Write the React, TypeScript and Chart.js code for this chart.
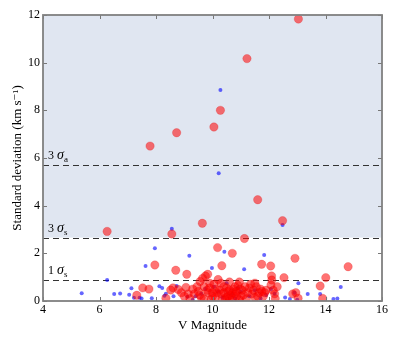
import React, { useEffect, useRef } from "react";
import { Chart, registerables } from "chart.js";

Chart.register(...registerables);

// Blue: small points (x = V magnitude, y = std dev km/s)
const blueX = [5.37, 6.27, 6.52, 6.73, 7.05, 7.13, 7.22, 7.42, 7.49, 7.63, 7.85, 7.96, 8.12, 8.22, 8.3, 8.35, 8.56, 8.73, 8.62, 9.11, 9.18, 9.3, 9.6, 9.75, 9.98, 10.05, 10.2, 10.22, 10.28, 10.42, 10.5, 10.7, 10.9, 11.12, 11.3, 11.5, 11.7, 11.83, 12.07, 12.2, 12.48, 12.57, 12.74, 12.9, 13.04, 13.37, 13.81, 14.28, 14.42, 14.54, 10.8, 11.0, 9.4, 10.35, 11.9, 13.0];
const blueY = [0.33, 0.88, 0.29, 0.31, 0.26, 0.53, 0.14, 0.14, 0.1, 1.47, 0.12, 2.21, 0.62, 0.55, 0.22, 0.3, 3.03, 0.63, 0.2, 0.18, 1.9, 0.05, 0.3, 0.5, 1.38, 0.6, 0.4, 5.36, 8.85, 2.07, 0.75, 0.3, 0.55, 1.33, 0.2, 0.45, 0.1, 1.93, 0.5, 0.3, 3.19, 0.15, 0.08, 0.35, 0.74, 0.29, 0.29, 0.08, 0.1, 0.59, 0.1, 0.4, 0.2, 0.15, 0.25, 0.05];

// Red: large points
const redX = [6.27, 7.32, 7.53, 7.75, 7.79, 7.96, 8.35, 8.52, 8.56, 8.7, 8.73, 8.79, 9.06, 9.09, 9.14, 9.56, 9.64, 9.5, 9.6, 9.7, 9.75, 9.83, 9.85, 9.9, 10.0, 10.05, 10.1, 10.18, 10.2, 10.28, 10.3, 10.33, 10.4, 10.5, 10.55, 10.6, 10.65, 10.7, 10.75, 10.8, 10.9, 11.0, 11.05, 11.13, 11.2, 11.22, 11.3, 11.4, 11.5, 11.55, 11.6, 11.65, 11.74, 11.8, 11.9, 12.06, 12.09, 12.1, 12.07, 12.2, 12.22, 12.29, 12.48, 12.53, 12.84, 12.92, 12.95, 13.03, 13.04, 13.81, 13.9, 14.01, 14.8, 9.45, 9.95, 10.45, 10.95, 9.3, 9.2, 10.15, 10.6, 11.35, 11.75, 9.65, 10.85,
  9.55, 9.7, 9.8, 9.9, 10.0, 10.05, 10.1, 10.25, 10.35, 10.4, 10.5, 10.55, 10.6, 10.7, 10.72, 10.8, 10.85, 11.0, 11.1, 11.15, 11.25, 11.45, 11.6, 11.7, 11.85, 9.35, 8.9, 8.6, 9.0, 10.3, 10.95, 11.5, 12.15];
const redY = [2.92, 0.24, 0.55, 0.5, 6.5, 1.51, 0.12, 0.46, 2.81, 1.29, 7.06, 0.48, 0.57, 1.12, 0.3, 0.82, 3.26, 0.4, 0.15, 0.6, 1.05, 1.12, 0.35, 0.75, 0.2, 7.3, 0.5, 2.24, 0.9, 8.0, 0.3, 1.48, 0.6, 0.15, 0.4, 0.8, 0.25, 2.0, 0.5, 0.3, 0.65, 0.2, 0.45, 2.62, 0.1, 10.17, 0.55, 0.3, 0.15, 0.6, 4.25, 0.35, 1.54, 0.2, 0.45, 1.47, 1.05, 0.88, 0.67, 0.3, 0.1, 0.6, 3.37, 0.98, 0.3, 1.79, 0.35, 0.12, 11.83, 0.63, 0.11, 0.98, 1.44, 0.6, 0.05, 0.05, 0.05, 0.5, 0.1, 0.35, 0.1, 0.7, 0.4, 0.95, 0.2,
  0.25, 0.1, 0.45, 0.55, 0.35, 0.7, 0.15, 0.45, 0.1, 0.35, 0.55, 0.2, 0.45, 0.1, 0.35, 0.6, 0.4, 0.5, 0.25, 0.6, 0.35, 0.45, 0.2, 0.5, 0.35, 0.3, 0.35, 0.55, 0.2, 0.75, 0.8, 0.75, 0.45];

// Threshold lines
const sigmaLevels = [5.72, 2.66, 0.88];
const sigmaLabels = [
  { num: "3 ", sub: "a" },
  { num: "3 ", sub: "s" },
  { num: "1 ", sub: "s" },
];
const shadeFrom = 2.66;

const xTicks = [4, 6, 8, 10, 12, 14, 16];
const yTicks = [0, 2, 4, 6, 8, 10, 12];

const SERIF = "'Liberation Serif', 'DejaVu Serif', serif";

const decorPlugin = {
  id: "decor",
  beforeDatasetsDraw(chart: any) {
    const { ctx, chartArea: a, scales } = chart;
    const ys = scales.y;
    ctx.save();
    const yTop = ys.getPixelForValue(12);
    const yBot = ys.getPixelForValue(shadeFrom);
    ctx.fillStyle = "rgb(224,230,241)";
    ctx.fillRect(a.left, yTop, a.right - a.left, yBot - yTop);
    ctx.strokeStyle = "#333";
    ctx.lineWidth = 1.2;
    ctx.setLineDash([6, 4]);
    sigmaLevels.forEach((v, i) => {
      const py = Math.round(ys.getPixelForValue(v)) + 0.5;
      ctx.beginPath();
      ctx.moveTo(a.left, py);
      ctx.lineTo(a.right, py);
      ctx.stroke();
      const lb = sigmaLabels[i];
      const bx = a.left + 5;
      const by = py - 7;
      ctx.fillStyle = "#000";
      ctx.textBaseline = "alphabetic";
      ctx.textAlign = "left";
      ctx.font = `12px ${SERIF}`;
      ctx.fillText(lb.num, bx, by);
      let x = bx + ctx.measureText(lb.num).width;
      ctx.font = `italic 14px ${SERIF}`;
      ctx.fillText("σ", x, by);
      x += ctx.measureText("σ").width;
      ctx.font = `9px ${SERIF}`;
      ctx.fillText(lb.sub, x, by + 3);
    });
    ctx.setLineDash([]);
    ctx.restore();
  },
  afterDatasetsDraw(chart: any) {
    const { ctx, chartArea: a, scales } = chart;
    ctx.save();
    ctx.strokeStyle = "#777";
    ctx.lineWidth = 1;
    const tl = 4;
    xTicks.forEach((v) => {
      const px = Math.round(scales.x.getPixelForValue(v)) + 0.5;
      ctx.beginPath();
      ctx.moveTo(px, a.bottom);
      ctx.lineTo(px, a.bottom - tl);
      ctx.moveTo(px, a.top);
      ctx.lineTo(px, a.top + tl);
      ctx.stroke();
    });
    yTicks.forEach((v) => {
      const py = Math.round(scales.y.getPixelForValue(v)) + 0.5;
      ctx.beginPath();
      ctx.moveTo(a.left, py);
      ctx.lineTo(a.left + tl, py);
      ctx.moveTo(a.right, py);
      ctx.lineTo(a.right - tl, py);
      ctx.stroke();
    });
    ctx.strokeStyle = "#808080";
    ctx.lineWidth = 1.8;
    ctx.strokeRect(a.left, a.top, a.right - a.left, a.bottom - a.top);
    ctx.restore();
  },
};

export default function App() {
  const ref = useRef<HTMLCanvasElement | null>(null);
  useEffect(() => {
    if (!ref.current) return;
    const chart = new Chart(ref.current, {
      type: "scatter",
      data: {
        datasets: [
          {
            label: "red",
            data: redX.map((x, i) => ({ x, y: redY[i] })),
            backgroundColor: "rgba(255,0,0,0.55)",
            borderColor: "rgba(220,0,0,0.35)",
            borderWidth: 0.6,
            pointRadius: 4.2,
            pointHoverRadius: 4.2,
          },
          {
            label: "blue",
            data: blueX.map((x, i) => ({ x, y: blueY[i] })),
            backgroundColor: "rgba(0,0,255,0.6)",
            borderWidth: 0,
            pointRadius: 2,
            pointHoverRadius: 2,
          },
        ],
      },
      options: {
        animation: false,
        responsive: false,
        devicePixelRatio: 1,
        layout: { padding: { left: 0, top: 15, right: 17, bottom: 0 } },
        plugins: { legend: { display: false }, tooltip: { enabled: false } },
        scales: {
          x: {
            type: "linear",
            min: 4,
            max: 16,
            afterFit: (s: any) => {
              s.height = 41;
            },
            afterBuildTicks: (s: any) => {
              s.ticks = xTicks.map((v) => ({ value: v }));
            },
            grid: { display: false, drawTicks: false },
            border: { display: false },
            ticks: {
              color: "#000",
              font: { family: SERIF, size: 12 },
              padding: 2,
              maxRotation: 0,
              autoSkip: false,
            },
            title: {
              display: true,
              text: "V Magnitude",
              color: "#000",
              font: { family: SERIF, size: 13 },
              padding: { top: 0, bottom: 9 },
            },
          },
          y: {
            type: "linear",
            min: 0,
            max: 12,
            afterFit: (s: any) => {
              s.width = 43;
            },
            afterBuildTicks: (s: any) => {
              s.ticks = yTicks.map((v) => ({ value: v }));
            },
            grid: { display: false, drawTicks: false },
            border: { display: false },
            ticks: {
              color: "#000",
              font: { family: SERIF, size: 12 },
              padding: 3,
              autoSkip: false,
            },
            title: {
              display: true,
              text: "Standard deviation (km s⁻¹)",
              color: "#000",
              font: { family: SERIF, size: 13 },
              padding: { top: 10, bottom: 0 },
            },
          },
        },
      },
      plugins: [decorPlugin],
    });
    return () => chart.destroy();
  }, []);
  return (
    <div style={{ position: "fixed", left: 0, top: 0, width: 399, height: 342, background: "#fff" }}>
      <canvas ref={ref} width={399} height={342} style={{ width: 399, height: 342, display: "block" }} />
    </div>
  );
}
